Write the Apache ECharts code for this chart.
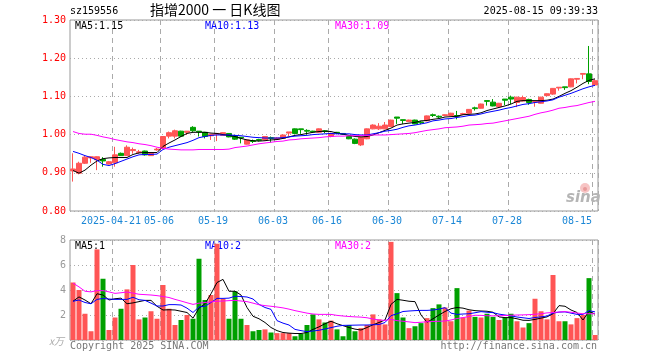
<!DOCTYPE html>
<html><head><meta charset="utf-8">
<script src="https://cdn.jsdelivr.net/npm/echarts@6/dist/echarts.min.js"></script>
<style>html,body{margin:0;padding:0;background:#fff}#c{width:660px;height:360px}</style>
</head><body><div id="c"></div>
<script>
const dates = [
'2025-04-10','2025-04-11','2025-04-14','2025-04-15','2025-04-16','2025-04-17','2025-04-18','2025-04-21','2025-04-22','2025-04-23','2025-04-24','2025-04-25','2025-04-28','2025-04-29','2025-04-30',
'2025-05-06','2025-05-07','2025-05-08','2025-05-09','2025-05-12','2025-05-13','2025-05-14','2025-05-15','2025-05-16','2025-05-19','2025-05-20','2025-05-21','2025-05-22','2025-05-23','2025-05-26','2025-05-27','2025-05-28','2025-05-29','2025-05-30',
'2025-06-03','2025-06-04','2025-06-05','2025-06-06','2025-06-09','2025-06-10','2025-06-11','2025-06-12','2025-06-13','2025-06-16','2025-06-17','2025-06-18','2025-06-19','2025-06-20','2025-06-23','2025-06-24','2025-06-25','2025-06-26','2025-06-27','2025-06-30',
'2025-07-01','2025-07-02','2025-07-03','2025-07-04','2025-07-07','2025-07-08','2025-07-09','2025-07-10','2025-07-11','2025-07-14','2025-07-15','2025-07-16','2025-07-17','2025-07-18','2025-07-21','2025-07-22','2025-07-23','2025-07-24','2025-07-25','2025-07-28','2025-07-29','2025-07-30','2025-07-31',
'2025-08-01','2025-08-04','2025-08-05','2025-08-06','2025-08-07','2025-08-08','2025-08-11','2025-08-12','2025-08-13','2025-08-14','2025-08-15'];

const tickDates = ['2025-04-21','2025-05-06','2025-05-19','2025-06-03','2025-06-16','2025-06-30','2025-07-14','2025-07-28','2025-08-15'];
const tickLabels = ['2025-04-21','05-06','05-19','06-03','06-16','06-30','07-14','07-28','08-15'];
const priceTicks = [0.80, 0.90, 1.00, 1.10, 1.20, 1.30];
const volTicks = [0, 2, 4, 6, 8];

const open = [0.905,0.899,0.925,0.939,0.934,0.935,0.923,0.926,0.951,0.945,
0.958,0.953,0.957,0.945,0.960,0.964,0.996,0.996,1.009,1.006,
1.019,1.009,1.006,0.997,1.001,0.998,1.003,0.997,0.993,0.975,
0.984,0.987,0.986,0.992,0.988,0.990,1.004,1.015,1.015,1.011,
1.009,1.006,1.010,0.996,1.006,1.003,0.995,0.988,0.973,0.989,
1.015,1.015,1.015,1.021,1.046,1.039,1.034,1.038,1.033,1.036,
1.052,1.048,1.050,1.050,1.050,1.053,1.056,1.070,1.069,1.089,
1.085,1.073,1.093,1.098,1.084,1.088,1.092,1.085,1.082,1.102,
1.106,1.122,1.125,1.125,1.145,1.158,1.159,1.130];
const close = [0.910,0.925,0.941,0.942,0.942,0.931,0.929,0.947,0.945,0.967,
0.961,0.955,0.947,0.951,0.962,0.995,1.005,1.010,0.996,1.009,
1.010,1.007,0.995,1.001,1.003,1.005,0.994,0.988,0.991,0.986,
0.982,0.985,0.995,0.990,0.991,0.999,1.007,1.003,1.013,1.009,
1.007,1.015,1.008,1.003,1.004,1.001,0.989,0.977,0.993,1.015,
1.025,1.022,1.025,1.038,1.043,1.037,1.038,1.028,1.031,1.049,
1.050,1.046,1.052,1.056,1.048,1.055,1.066,1.068,1.080,1.087,
1.075,1.082,1.090,1.093,1.098,1.097,1.084,1.087,1.098,1.107,
1.121,1.124,1.123,1.146,1.147,1.160,1.139,1.141];
const low = [0.877,0.896,0.923,0.926,0.907,0.916,0.922,0.916,0.944,0.944,
0.950,0.950,0.945,0.944,0.958,0.962,0.990,0.990,0.995,0.999,
1.007,0.995,0.990,0.986,0.983,0.997,0.993,0.986,0.977,0.974,
0.978,0.982,0.985,0.979,0.986,0.989,0.996,1.002,1.002,1.000,
1.005,1.005,1.004,0.993,1.001,0.999,0.988,0.975,0.970,0.988,
1.014,1.012,1.014,1.020,1.028,1.028,1.033,1.027,1.027,1.035,
1.046,1.043,1.048,1.049,1.040,1.051,1.055,1.063,1.068,1.076,
1.074,1.071,1.077,1.080,1.072,1.087,1.078,1.073,1.081,1.101,
1.104,1.115,1.117,1.124,1.134,1.145,1.132,1.129];
const high = [0.951,0.929,0.944,0.943,0.943,0.941,0.931,0.968,0.953,0.972,
0.966,0.960,0.958,0.953,0.965,0.996,1.008,1.013,1.010,1.009,
1.022,1.009,1.007,1.002,1.003,1.006,1.004,0.998,0.993,0.987,
0.987,0.989,0.996,0.995,0.993,1.000,1.007,1.016,1.015,1.014,
1.010,1.016,1.012,1.005,1.007,1.004,0.997,0.990,0.994,1.016,
1.027,1.030,1.033,1.039,1.046,1.039,1.039,1.039,1.036,1.050,
1.055,1.050,1.053,1.057,1.062,1.057,1.067,1.073,1.081,1.089,
1.093,1.083,1.093,1.102,1.099,1.102,1.094,1.087,1.099,1.108,
1.122,1.124,1.125,1.147,1.147,1.160,1.232,1.145];

const ma5 = [0.906,0.899,0.907,0.920,0.931,0.937,0.939,0.940,0.940,0.940,
0.948,0.952,0.953,0.953,0.953,0.969,0.978,0.986,0.995,1.003,
1.006,1.006,1.006,1.004,1.003,1.000,0.998,0.995,0.990,0.986,
0.984,0.983,0.984,0.986,0.987,0.990,0.994,0.998,1.000,1.003,
1.006,1.008,1.009,1.008,1.004,1.001,0.998,0.995,0.994,0.995,
0.999,1.005,1.011,1.017,1.025,1.028,1.030,1.032,1.036,1.037,
1.040,1.042,1.046,1.047,1.048,1.052,1.053,1.054,1.057,1.063,
1.067,1.071,1.075,1.080,1.087,1.089,1.089,1.089,1.089,1.090,
1.093,1.100,1.108,1.115,1.124,1.134,1.142,1.146];
const ma10 = [0.956,0.951,0.945,0.940,0.933,0.922,0.919,0.924,0.930,0.936,
0.942,0.947,0.948,0.948,0.949,0.961,0.967,0.971,0.975,0.979,
0.985,0.992,0.995,0.998,0.999,0.999,0.999,0.998,0.997,0.995,
0.993,0.992,0.991,0.991,0.991,0.992,0.994,0.996,0.997,0.998,
1.000,1.001,1.002,1.003,1.002,1.002,1.002,1.000,0.999,0.999,
1.002,1.005,1.009,1.011,1.014,1.019,1.023,1.025,1.028,1.031,
1.036,1.038,1.041,1.042,1.045,1.047,1.050,1.051,1.054,1.058,
1.061,1.064,1.068,1.071,1.075,1.079,1.081,1.084,1.086,1.088,
1.091,1.098,1.103,1.108,1.114,1.120,1.125,1.129];
const ma30 = [1.008,1.003,1.001,1.001,0.998,0.994,0.991,0.987,0.984,0.981,
0.979,0.976,0.974,0.971,0.967,0.964,0.962,0.961,0.960,0.960,
0.960,0.961,0.961,0.961,0.961,0.961,0.962,0.966,0.968,0.970,
0.973,0.976,0.978,0.980,0.982,0.983,0.986,0.987,0.989,0.990,
0.991,0.992,0.994,0.995,0.996,0.996,0.997,0.997,0.998,0.998,
0.999,0.999,0.999,1.000,1.001,1.002,1.003,1.005,1.008,1.011,
1.013,1.015,1.018,1.019,1.020,1.022,1.025,1.026,1.027,1.029,
1.030,1.033,1.036,1.039,1.042,1.045,1.048,1.053,1.057,1.060,
1.064,1.069,1.071,1.074,1.076,1.080,1.084,1.087];

const vol = [4.6,4.0,2.1,0.7,7.25,4.9,0.8,1.8,2.5,4.05,
6.0,1.65,1.8,2.3,1.7,4.4,2.5,1.2,1.6,2.0,
1.7,6.5,3.2,3.6,7.7,3.3,1.7,3.9,1.7,1.2,
0.7,0.8,0.85,0.6,0.55,0.55,0.55,0.3,0.5,1.2,
2.05,1.65,1.4,1.55,0.85,0.3,1.2,0.7,0.95,1.2,
2.05,1.65,1.25,7.85,3.75,1.8,0.95,1.1,1.35,1.75,
2.55,2.85,2.6,1.5,4.15,1.8,2.35,1.85,1.8,2.1,
1.85,1.6,1.8,2.1,1.5,1.0,1.35,3.3,2.3,1.65,
5.2,1.5,1.5,1.25,1.75,2.0,4.95,0.4];
const vma5 = [3.1,3.45,3.2,2.9,3.7,3.6,3.2,3.3,3.35,2.9,
2.97,3.07,3.17,3.17,2.7,2.4,2.42,2.4,2.3,2.2,
1.75,2.55,2.9,3.7,4.6,4.85,3.9,3.9,3.6,2.6,
1.9,1.7,1.4,1.0,0.75,0.6,0.55,0.52,0.52,0.6,
0.85,1.05,1.3,1.5,1.3,1.15,1.0,0.87,0.8,1.0,
1.22,1.4,1.6,2.85,3.25,3.18,3.1,3.07,2.0,1.42,
1.7,2.0,2.28,2.5,2.6,2.55,2.42,2.35,2.32,2.3,
2.22,1.85,1.79,1.79,1.7,1.58,1.57,1.65,1.75,1.85,
2.1,2.75,2.7,2.4,2.2,1.6,2.3,2.07];
const vma10 = [3.1,3.2,3.0,2.9,3.25,3.32,3.28,3.25,3.25,3.25,
3.42,3.22,3.17,2.95,2.72,2.72,2.83,2.83,2.8,2.55,
2.2,2.65,2.7,3.0,3.33,3.33,3.35,3.5,3.48,3.44,
3.28,2.85,2.6,2.45,1.55,1.35,1.2,0.85,0.75,0.67,
0.72,0.78,0.88,0.99,1.1,1.17,1.18,1.19,1.2,1.2,
1.22,1.24,1.4,1.95,2.1,2.28,2.32,2.35,2.37,2.37,
2.4,2.47,2.59,2.15,2.05,2.08,2.1,2.18,2.27,2.22,
2.19,2.07,2.0,1.93,1.84,1.78,1.72,1.8,1.85,1.92,
2.15,2.23,2.25,2.15,2.05,2.05,2.35,2.25];
const vma30 = [4.55,4.25,3.9,3.85,3.95,3.95,3.85,3.73,3.78,3.84,
3.75,3.66,3.63,3.6,3.55,3.48,3.4,3.25,3.12,2.98,
2.85,2.95,3.0,3.05,3.1,3.12,3.15,3.17,3.12,3.07,
2.95,2.82,2.75,2.7,2.64,2.57,2.47,2.35,2.25,2.15,
2.08,2.05,2.05,2.05,1.97,1.92,1.88,1.85,1.83,1.78,
1.68,1.6,1.57,1.65,1.55,1.5,1.45,1.39,1.42,1.46,
1.48,1.5,1.52,1.6,1.72,1.79,1.88,1.98,1.97,1.94,
1.93,1.94,1.96,1.98,2.0,2.01,2.03,2.06,2.1,2.17,
2.2,2.24,2.27,2.22,2.16,2.1,2.1,2.1];

const UP = '#ff5555', DOWN = '#00a000';
const MONO = 'DejaVu Sans Mono';
const isTick = (v) => tickDates.indexOf(v) >= 0;

const candle = dates.map((d, i) => [open[i], close[i], low[i], high[i]]);
const volData = vol.map((v, i) => ({value: v, itemStyle: {color: close[i] >= open[i] ? UP : DOWN}}));

function maLine(name, data, color, xi, yi) {
  return {name, type: 'line', data, xAxisIndex: xi, yAxisIndex: yi, showSymbol: false, symbol: 'none',
    lineStyle: {color, width: 1}, z: 5, silent: true};
}
const splitV = {show: true, interval: (i, v) => isTick(v), lineStyle: {color: '#aaa', type: [5, 4], width: 1}};
const splitH = {show: true, lineStyle: {color: '#aaa', type: [1, 3], width: 1}};

const chart = echarts.init(document.getElementById('c'), null, {renderer: 'canvas'});
chart.setOption({
  animation: false,
  backgroundColor: '#fff',
  grid: [
    {left: 70, top: 20, width: 528, height: 191, show: true, borderColor: '#999', borderWidth: 1, backgroundColor: 'transparent'},
    {left: 70, top: 240, width: 528, height: 100, show: true, borderColor: '#999', borderWidth: 1, backgroundColor: 'transparent'}
  ],
  xAxis: [
    {type: 'category', gridIndex: 0, data: dates, boundaryGap: true,
     axisLine: {show: false}, axisTick: {show: false},
     axisLabel: {interval: (i, v) => isTick(v), margin: 5, color: '#1b87d6', fontFamily: MONO, fontSize: 10,
       formatter: (v) => { const k = tickDates.indexOf(v); const t = tickLabels[k];
         return k === tickDates.length - 1 ? '{b|' + t + '}' : '{a|' + t + '}'; },
       rich: {a: {padding: [0, 8, 0, 0], color: '#1b87d6', fontFamily: MONO, fontSize: 10},
              b: {padding: [0, 36, 0, 0], color: '#1b87d6', fontFamily: MONO, fontSize: 10}}},
     splitLine: splitV},
    {type: 'category', gridIndex: 1, data: dates, boundaryGap: true,
     axisLine: {show: false}, axisTick: {show: false}, axisLabel: {show: false},
     splitLine: splitV}
  ],
  yAxis: [
    {type: 'value', gridIndex: 0, min: priceTicks[0], max: priceTicks[priceTicks.length - 1], interval: 0.1,
     axisLine: {show: false}, axisTick: {show: false},
     axisLabel: {color: '#ff0000', fontFamily: MONO, fontSize: 10, margin: 4, formatter: (v) => v.toFixed(2)},
     splitLine: splitH},
    {type: 'value', gridIndex: 1, min: volTicks[0], max: volTicks[volTicks.length - 1], interval: 2,
     axisLine: {show: false}, axisTick: {show: false},
     axisLabel: {color: '#999', fontFamily: MONO, fontSize: 10, margin: 4, formatter: (v) => v === 0 ? '' : String(v)},
     splitLine: splitH}
  ],
  series: [
    {name: 'K', type: 'candlestick', data: candle, xAxisIndex: 0, yAxisIndex: 0, barWidth: 5,
     itemStyle: {color: UP, color0: DOWN, borderColor: UP, borderColor0: DOWN, borderWidth: 1}, z: 3},
    maLine('MA5', ma5, '#000000', 0, 0),
    maLine('MA10', ma10, '#0000ff', 0, 0),
    maLine('MA30', ma30, '#ff00ff', 0, 0),
    {name: 'VOL', type: 'bar', data: volData, xAxisIndex: 1, yAxisIndex: 1, barWidth: 5, z: 3},
    maLine('VMA5', vma5, '#000000', 1, 1),
    maLine('VMA10', vma10, '#0000ff', 1, 1),
    maLine('VMA30', vma30, '#ff00ff', 1, 1)
  ],
  graphic: [
    {type: 'text', left: 70, top: 6, style: {text: 'sz159556', fill: '#000', font: '10px "DejaVu Sans Mono"'}},
    {type: 'text', left: 150, top: 3, style: {text: '指增2000 一 日K线图', fill: '#000', font: '14px "Noto Sans CJK SC"'}},
    {type: 'text', right: 62, top: 6, style: {text: '2025-08-15 09:39:33', fill: '#000', font: '10px "DejaVu Sans Mono"'}},
    {type: 'text', left: 75, top: 21, style: {text: 'MA5:1.15', fill: '#000', font: '10px "DejaVu Sans Mono"'}},
    {type: 'text', left: 205, top: 21, style: {text: 'MA10:1.13', fill: '#0000ff', font: '10px "DejaVu Sans Mono"'}},
    {type: 'text', left: 335, top: 21, style: {text: 'MA30:1.09', fill: '#ff00ff', font: '10px "DejaVu Sans Mono"'}},
    {type: 'text', left: 75, top: 241, style: {text: 'MA5:1', fill: '#000', font: '10px "DejaVu Sans Mono"'}},
    {type: 'text', left: 205, top: 241, style: {text: 'MA10:2', fill: '#0000ff', font: '10px "DejaVu Sans Mono"'}},
    {type: 'text', left: 335, top: 241, style: {text: 'MA30:2', fill: '#ff00ff', font: '10px "DejaVu Sans Mono"'}},
    {type: 'text', left: 49, top: 336, style: {text: 'x万', fill: '#aaa', font: 'italic 10px "Noto Sans CJK SC"'}},
    {type: 'text', left: 70, top: 341, style: {text: 'Copyright 2025 SINA.COM', fill: '#777', font: '10px "DejaVu Sans Mono"'}},
    {type: 'text', right: 63, top: 341, style: {text: 'http://finance.sina.com.cn', fill: '#777', font: '10px "DejaVu Sans Mono"'}},
    {type: 'circle', shape: {cx: 585, cy: 188, r: 5}, style: {fill: '#f7c4c4'}, z: 10},
    {type: 'circle', shape: {cx: 585, cy: 189, r: 2}, style: {fill: '#e89a9a'}, z: 10},
    {type: 'text', left: 566, top: 191, z: 10, style: {text: 'sina', fill: '#b5b5b5', font: 'italic bold 15px "DejaVu Sans"'}}
  ]
});
</script></body></html>
